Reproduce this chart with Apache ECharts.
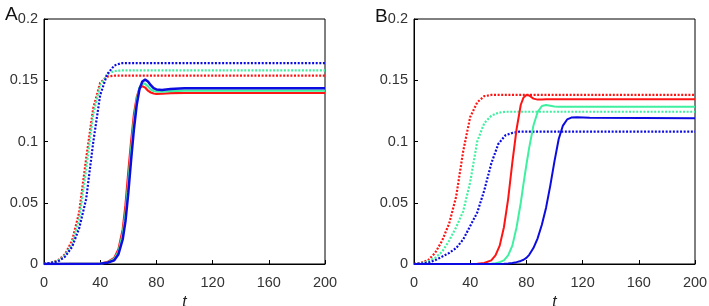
<!DOCTYPE html>
<html>
<head>
<meta charset="utf-8">
<script src="https://cdn.jsdelivr.net/npm/echarts@6/dist/echarts.min.js"></script>
<style>
  html, body { margin: 0; padding: 0; background: #fff; }
  #chart { width: 709px; height: 306px; }
</style>
</head>
<body>
<div id="chart"></div>
<script>
  // panel A, dotted curves
  let tDotA = [0, 5, 10, 15, 20, 25, 30, 35, 40, 45, 50, 55, 200];
  let redDotA = [0, 0.001, 0.003, 0.008, 0.019, 0.042, 0.086, 0.127, 0.148, 0.153, 0.1537, 0.1537, 0.1537];
  let greenDotA = [0, 0.001, 0.0025, 0.007, 0.016, 0.036, 0.077, 0.122, 0.146, 0.155, 0.1575, 0.158, 0.158];
  let blueDotA = [0, 0.001, 0.002, 0.006, 0.014, 0.029, 0.053, 0.099, 0.138, 0.155, 0.162, 0.164, 0.164];

  // panel A, solid curves
  let tSolA = [0, 40, 45, 50, 53, 56, 58, 60, 62, 64, 66, 68, 70, 72, 74, 76, 78, 80, 84, 90, 100, 200];
  let redSolA = [0, 0.0004, 0.0015, 0.005, 0.012, 0.028, 0.048, 0.075, 0.1, 0.122, 0.136, 0.1435, 0.1452, 0.144, 0.1415, 0.14, 0.1392, 0.1388, 0.139, 0.1395, 0.1396, 0.1396];
  let greenSolA = [0, 0.0003, 0.0012, 0.004, 0.01, 0.024, 0.041, 0.066, 0.093, 0.116, 0.134, 0.144, 0.1475, 0.147, 0.145, 0.1425, 0.1412, 0.1408, 0.1407, 0.1412, 0.1415, 0.1415];
  let blueSolA = [0, 0.0003, 0.001, 0.003, 0.008, 0.02, 0.035, 0.058, 0.085, 0.11, 0.13, 0.143, 0.149, 0.1505, 0.149, 0.146, 0.1435, 0.1425, 0.142, 0.1428, 0.1434, 0.1434];

  // panel B, dotted curves
  let tDotB = [0, 5, 10, 15, 20, 25, 30, 35, 40, 45, 50, 55, 60, 65, 70, 75, 200];
  let redDotB = [0, 0.001, 0.003, 0.009, 0.019, 0.033, 0.055, 0.092, 0.12, 0.132, 0.137, 0.138, 0.138, 0.138, 0.138, 0.138, 0.138];
  let greenDotB = [0, 0.0005, 0.002, 0.005, 0.01, 0.019, 0.03, 0.043, 0.067, 0.1, 0.115, 0.121, 0.1235, 0.1243, 0.1243, 0.1243, 0.1243];
  let blueDotB = [0, 0.0003, 0.001, 0.003, 0.006, 0.009, 0.013, 0.02, 0.031, 0.042, 0.06, 0.082, 0.098, 0.105, 0.107, 0.108, 0.108];

  // panel B, solid curves
  let tSolB = [0, 45, 50, 55, 58, 61, 64, 67, 70, 73, 76, 78, 80, 82, 85, 88, 91, 94, 97, 100, 103, 106, 109, 112, 116, 125, 200];
  let redSolB = [0, 0.0002, 0.0008, 0.003, 0.007, 0.015, 0.03, 0.053, 0.083, 0.11, 0.13, 0.136, 0.138, 0.1375, 0.135, 0.1342, 0.1343, 0.1344, 0.1344, 0.1344, 0.1344, 0.1344, 0.1344, 0.1344, 0.1344, 0.1344, 0.1344];
  let greenSolB = [0, 0, 0.0001, 0.0003, 0.0006, 0.0015, 0.003, 0.007, 0.015, 0.03, 0.05, 0.066, 0.081, 0.095, 0.113, 0.124, 0.129, 0.1298, 0.1292, 0.1286, 0.1284, 0.1284, 0.1284, 0.1284, 0.1284, 0.1284, 0.1284];
  let blueSolB = [0, 0, 0, 0, 0, 0.0001, 0.0002, 0.0004, 0.0008, 0.0015, 0.0025, 0.0035, 0.005, 0.0075, 0.013, 0.021, 0.032, 0.046, 0.064, 0.084, 0.102, 0.113, 0.118, 0.1195, 0.1198, 0.1193, 0.119];

  let xTicks = [0, 40, 80, 120, 160, 200];
  let yTicks = [0, 0.05, 0.1, 0.15, 0.2];

  let RED = '#ff1414';
  let GREEN = '#3ff0a0';
  let BLUE = '#0c0ce0';
  let FONT = '"Liberation Sans", Arial, sans-serif';

  function pairs(ts, vs) {
    return ts.map((t, i) => [t, vs[i]]);
  }

  function line(idx, ts, vs, color, dotted, width) {
    return {
      type: 'line',
      xAxisIndex: idx,
      yAxisIndex: idx,
      data: pairs(ts, vs),
      showSymbol: false,
      symbol: 'none',
      animation: false,
      lineStyle: {
        color: color,
        width: width,
        type: dotted ? [2, 1.6] : 'solid'
      },
      z: dotted ? 2 : 3
    };
  }

  function xAxis(idx) {
    return {
      type: 'value',
      gridIndex: idx,
      min: 0,
      max: 200,
      interval: 40,
      name: 't',
      nameLocation: 'middle',
      nameGap: 27,
      nameTextStyle: { fontFamily: FONT, fontStyle: 'italic', fontSize: 16, color: '#222' },
      axisLine: { lineStyle: { color: '#000', width: 1 } },
      axisTick: { inside: true, length: 4, lineStyle: { color: '#000' } },
      axisLabel: {
        margin: 11, fontSize: 14.5, fontFamily: FONT, color: '#333',
        formatter: v => xTicks.indexOf(v) >= 0 ? String(v) : ''
      },
      splitLine: { show: false }
    };
  }

  function yAxis(idx) {
    return {
      type: 'value',
      gridIndex: idx,
      min: 0,
      max: 0.2,
      interval: 0.05,
      axisLine: { show: true, lineStyle: { color: '#000', width: 1 } },
      axisTick: { show: true, inside: true, length: 4, lineStyle: { color: '#000' } },
      axisLabel: {
        margin: 6, fontSize: 14.5, fontFamily: FONT, color: '#333',
        formatter: v => {
          let k = yTicks.findIndex(y => Math.abs(y - v) < 1e-9);
          return k >= 0 ? String(yTicks[k]) : '';
        }
      },
      splitLine: { show: false }
    };
  }

  let chart = echarts.init(document.getElementById('chart'), null, { renderer: 'canvas' });

  chart.setOption({
    backgroundColor: '#fff',
    animation: false,
    title: [
      { text: 'A', left: 0, top: 0, textStyle: { fontFamily: FONT, fontSize: 19, fontWeight: 'normal', color: '#111' } },
      { text: 'B', left: 370, top: 2, textStyle: { fontFamily: FONT, fontSize: 19, fontWeight: 'normal', color: '#111' } }
    ],
    grid: [
      { left: 44, top: 19, width: 281, height: 245, outerBoundsMode: 'none', containLabel: false,
        show: true, borderColor: '#000', borderWidth: 1, backgroundColor: '#fff' },
      { left: 414, top: 19, width: 281, height: 245, outerBoundsMode: 'none', containLabel: false,
        show: true, borderColor: '#000', borderWidth: 1, backgroundColor: '#fff' }
    ],
    xAxis: [xAxis(0), xAxis(1)],
    yAxis: [yAxis(0), yAxis(1)],
    series: [
      line(0, tDotA, redDotA, RED, true, 2.2),
      line(0, tDotA, greenDotA, GREEN, true, 2.2),
      line(0, tDotA, blueDotA, BLUE, true, 2.2),
      line(0, tSolA, redSolA, RED, false, 2.2),
      line(0, tSolA, greenSolA, GREEN, false, 2.2),
      line(0, tSolA, blueSolA, BLUE, false, 2.5),
      line(1, tDotB, redDotB, RED, true, 2.2),
      line(1, tDotB, greenDotB, GREEN, true, 2.2),
      line(1, tDotB, blueDotB, BLUE, true, 2.2),
      line(1, tSolB, redSolB, RED, false, 2),
      line(1, tSolB, greenSolB, GREEN, false, 2),
      line(1, tSolB, blueSolB, BLUE, false, 2)
    ]
  });

  window.addEventListener('resize', () => {
    chart.resize();
  });
</script>
</body>
</html>
